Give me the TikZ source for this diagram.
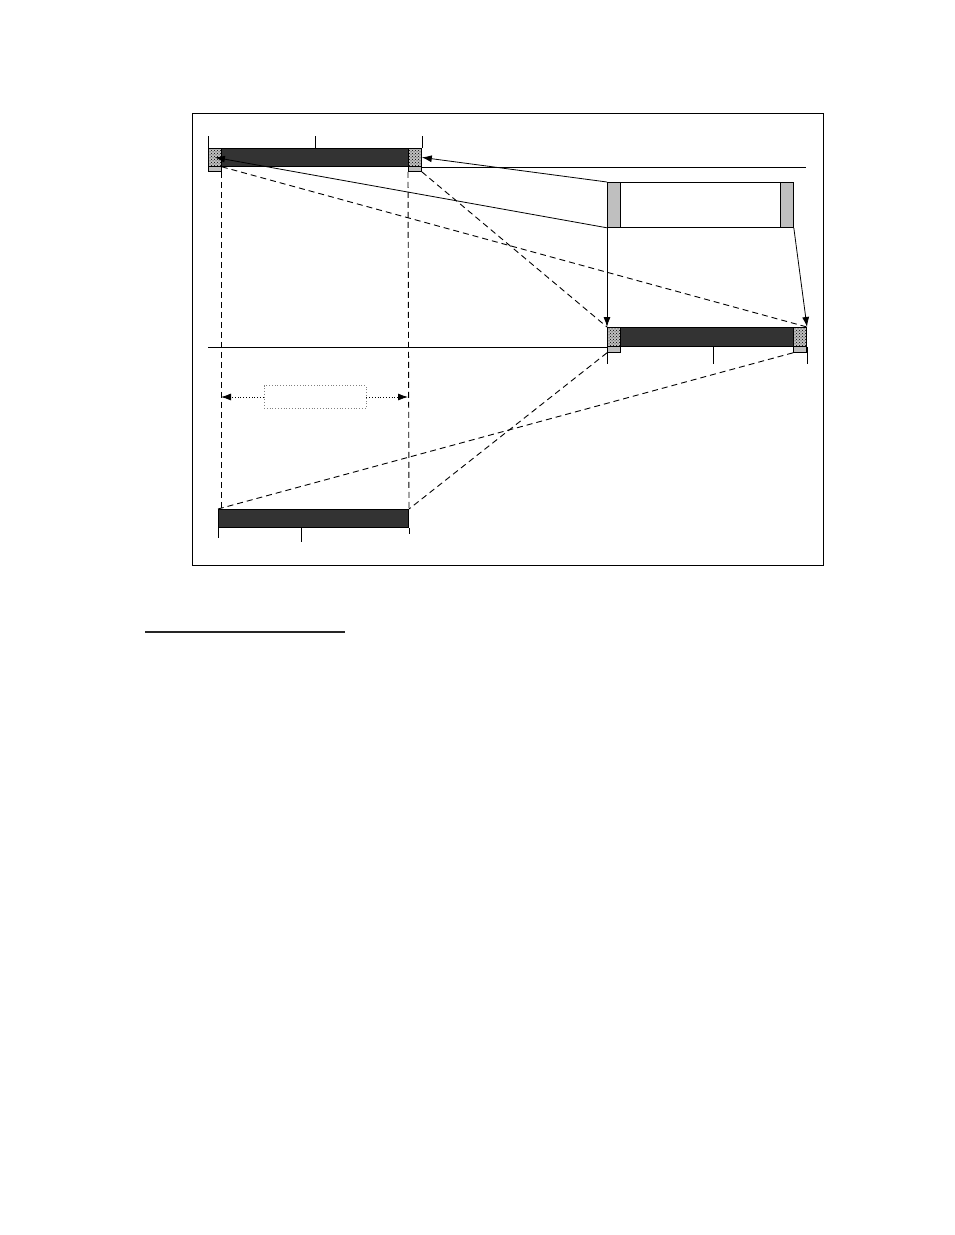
\documentclass[tikz,border=0pt]{standalone}
\usepackage{tikz}
\usetikzlibrary{shapes,arrows,arrows.meta,patterns}
\tikzstyle{bar} = [rectangle, draw, fill=black!80, inner sep=0pt, 
    anchor=north west, line width=1pt]
\tikzstyle{capbox} = [rectangle, draw, fill=gray!50, inner sep=0pt, 
    anchor=north west, minimum width=13pt, line width=0.8pt]
\tikzstyle{dotbox} = [rectangle, draw, fill=gray!45, pattern=crosshatch dots, inner sep=0pt, 
    anchor=north west, minimum width=13pt, minimum height=18pt, line width=0.8pt]
\tikzstyle{line} = [draw, -{Latex[length=10pt,width=7pt]}, line width=0.8pt]
\tikzstyle{dline} = [draw, line width=0.9pt, dash pattern=on 6pt off 4pt]
\tikzstyle{tick} = [draw, line width=1pt]

\begin{document}
\begin{tikzpicture}[x=1pt, y=-1pt]
    \useasboundingbox (0,0) rectangle (954,1235);
    % Frame
    \draw [line width=0.8pt] (192,113) rectangle (823,565);
    % Place nodes
    \node [bar, minimum width=213pt, minimum height=18pt] (top) at (208,148) {};
    \node [capbox, minimum height=23pt] (topLg) at (208,148) {};
    \node [dotbox] (topL) at (208,148) {};
    \node [capbox, minimum height=23pt] (topRg) at (408,148) {};
    \node [dotbox] (topR) at (408,148) {};
    \node [rectangle, draw, fill=white, inner sep=0pt, anchor=north west, 
        minimum width=186pt, minimum height=45pt, line width=0.8pt] (buf) at (607,182) {};
    \node [capbox, minimum height=45pt] (bufL) at (607,182) {};
    \node [capbox, minimum height=45pt] (bufR) at (780,182) {};
    \node [bar, minimum width=199pt, minimum height=19pt] (mid) at (607,327) {};
    \node [capbox, minimum height=25pt] (midLg) at (607,327) {};
    \node [dotbox, minimum height=19pt] (midL) at (607,327) {};
    \node [capbox, minimum height=25pt] (midRg) at (793,327) {};
    \node [dotbox, minimum height=19pt] (midR) at (793,327) {};
    \node [bar, minimum width=190pt, minimum height=18pt] (bot) at (218,509) {};
    \node [rectangle, draw=gray, dotted, line width=0.8pt, minimum width=102pt, 
        minimum height=23pt] (gap) at (315,397) {};
    \coordinate (refR) at (806,166);
    \coordinate (refL) at (208,346);
    \coordinate (gapL) at (221,397);
    \coordinate (gapR) at (408,397);
    \coordinate (ruleL) at (145,632);
    \coordinate (ruleR) at (345,632);
    % Ticks
    \path [tick] (top.north west) -- ++(0,-12);
    \path [tick] (top.north) -- ++(0,-12);
    \path [tick] (top.north east) -- ++(0,-12);
    \path [tick] (mid.south west) -- ++(0,17);
    \path [tick] (mid.south west) ++(106,0) -- ++(0,17);
    \path [tick] (mid.south east) -- ++(0,17);
    \path [tick] (bot.south west) -- ++(0,10);
    \path [tick] (bot.south west) ++(83,0) -- ++(0,14);
    \path [tick] (bot.south east) -- ++(0,6);
    % Reference lines
    \path [draw, line width=0.8pt] (top.south east) -- (top.south east -| refR);
    \path [draw, line width=0.8pt] (refL |- mid.south west) -- (mid.south west);
    % Draw edges
    \path [line] (buf.north west) -- (topR.east);
    \path [line] (buf.south west) -- (topL.center);
    \path [line] (buf.south west) -- (mid.north west);
    \path [line] (buf.south east) -- (mid.north east);
    \path [dline] (topLg.south east) -- (topLg.south east |- bot.north);
    \path [dline] (topRg.south west) -- (bot.north east);
    \path [dline] (topL.south east) -- (mid.north east);
    \path [dline] (topRg.south east) -- (mid.north west);
    \path [dline] (midLg.south west) -- (bot.north east);
    \path [dline] (midRg.south west) -- (bot.north west);
    \path [line, dotted] (gap.west) -- (gapL);
    \path [line, dotted] (gap.east) -- (gapR);
    % Rule below
    \path [draw, line width=2pt, black!85] (ruleL) -- (ruleR);
\end{tikzpicture}
\end{document}
